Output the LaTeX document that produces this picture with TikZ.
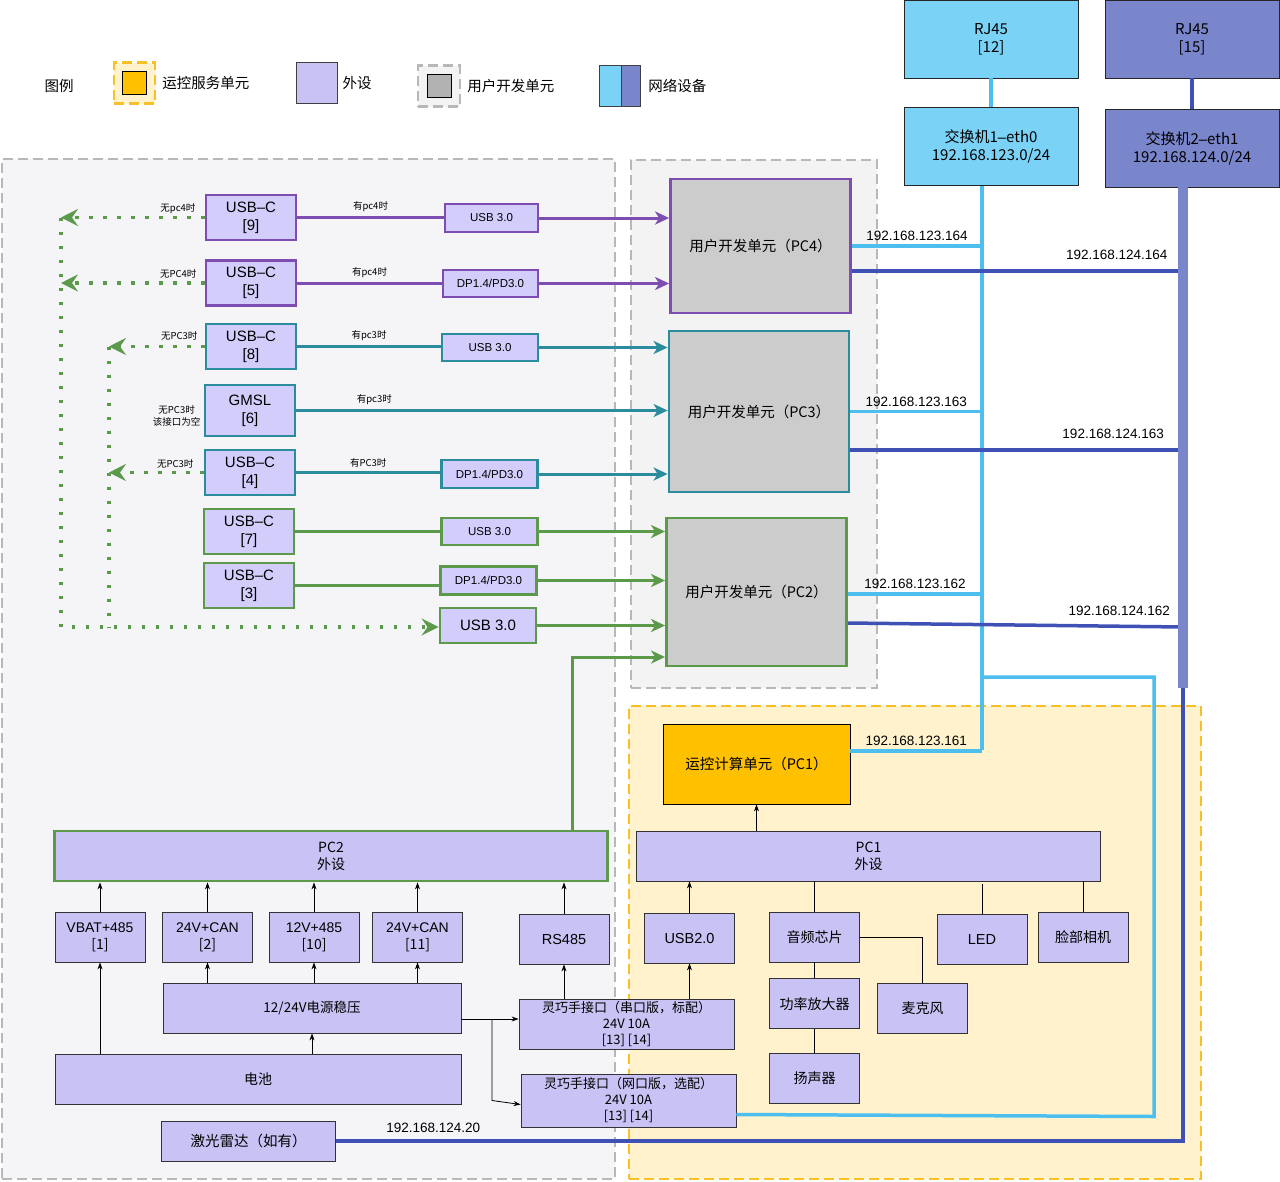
\documentclass[tikz,border=0pt]{standalone}
\usepackage{fontspec}
\setmainfont{Noto Sans CJK SC}
\newfontfamily\lat{Liberation Sans}
\usetikzlibrary{shapes,arrows.meta,positioning}
\definecolor{purp}{HTML}{7D4DB2}
\definecolor{tealc}{HTML}{2B8C9E}
\definecolor{grn}{HTML}{5A9A4A}
\definecolor{lav}{HTML}{D2CDFB}
\definecolor{lavb}{HTML}{C8C3F4}
\definecolor{netl}{HTML}{7AD3F6}
\definecolor{netd}{HTML}{7986CB}
\definecolor{linel}{HTML}{4DBFEF}
\definecolor{lined}{HTML}{3F51B5}
\definecolor{pcgray}{HTML}{CCCCCC}
\definecolor{pcone}{HTML}{FFC000}
\definecolor{zonegray}{HTML}{F5F5F8}
\definecolor{zoneuser}{HTML}{F3F3F3}
\definecolor{zoneyel}{HTML}{FFF2CC}
\definecolor{dashyel}{HTML}{F6C026}
\definecolor{dashgray}{HTML}{B8B8B8}
\tikzstyle{zone}=[rectangle,dash pattern=on 10pt off 5pt,line width=2.5pt,inner sep=0pt]
\tikzstyle{legtext}=[inner sep=0pt,font=\fontsize{14.5}{17}\selectfont]
\tikzstyle{port}=[rectangle,draw,line width=2.8pt,fill=lav,align=center,inner sep=0pt,minimum width=90pt,minimum height=45pt,font=\lat\fontsize{15}{18}\selectfont]
\tikzstyle{conv}=[rectangle,draw,line width=2.8pt,fill=lav,inner sep=0pt,minimum width=96pt,minimum height=27pt,font=\lat\fontsize{11.5}{13}\selectfont]
\tikzstyle{periph}=[rectangle,draw=black!80,line width=0.8pt,fill=lavb,align=center,inner sep=0pt,minimum width=90pt,minimum height=50pt,font=\fontsize{14}{17}\selectfont]
\tikzstyle{devpc}=[rectangle,draw,line width=2.8pt,fill=pcgray,inner sep=0pt,minimum width=180pt,font=\fontsize{14.5}{18}\selectfont]
\tikzstyle{netbox}=[rectangle,draw=black!85,line width=0.8pt,align=center,inner sep=0pt,minimum width=174pt,minimum height=78pt,font=\fontsize{15}{18}\selectfont]
\tikzstyle{wire}=[line width=3pt]
\tikzstyle{cable}=[wire,-{Stealth[length=14pt,width=13pt,inset=4pt]}]
\tikzstyle{spare}=[grn,line width=3.5pt,dash pattern=on 3.5pt off 10.5pt]
\tikzstyle{sparetip}=[-{Stealth[length=17pt,width=17pt,inset=6pt]}]
\tikzstyle{feed}=[line width=0.8pt,-{Stealth[length=7pt,width=5pt]}]
\tikzstyle{tie}=[line width=0.8pt]
\tikzstyle{lanA}=[linel,line width=3.5pt]
\tikzstyle{lanB}=[lined,line width=3.5pt]
\tikzstyle{iptag}=[text=black,font=\lat\fontsize{13.5}{15}\selectfont]
\tikzstyle{hint}=[text=black,inner sep=0pt,align=center,font=\fontsize{9.5}{12}\selectfont]

\begin{document}
\begin{tikzpicture}[x=1pt,y=-1pt]
\useasboundingbox (0,0) rectangle (1280,1181);
\node[zone,draw=dashgray,fill=zonegray,minimum width=613pt,minimum height=1020pt] (zl) at (308.5,669) {};
\node[zone,draw=dashgray,fill=zoneuser,minimum width=246pt,minimum height=528pt] (zu) at (754,424) {};
\node[zone,draw=dashyel,fill=zoneyel,minimum width=572pt,minimum height=473pt] (zy) at (915,942.5) {};

\node[legtext] (lgd) at (59,86) {图例};
\node[zone,draw=dashyel,fill=zoneyel,minimum width=41pt,minimum height=41pt] (lg1) at (134.5,83) {};
\node[draw,line width=0.8pt,fill=pcone,minimum width=24pt,minimum height=23pt,inner sep=0pt] (lg1i) at (lg1) {};
\node[legtext,right=6pt of lg1] (lt1) {运控服务单元};
\node[draw=black!75,line width=0.8pt,fill=lavb,minimum width=41pt,minimum height=41pt,inner sep=0pt] (lg2) at (316.5,83) {};
\node[legtext,right=5pt of lg2] (lt2) {外设};
\node[zone,draw=dashgray,fill=zoneuser,minimum width=42pt,minimum height=41pt] (lg3) at (439,86) {};
\node[draw,line width=0.8pt,fill=black!30,minimum width=24pt,minimum height=23pt,inner sep=0pt] (lg3i) at (lg3) {};
\node[legtext,right=6pt of lg3] (lt3) {用户开发单元};
\node[draw=black!75,line width=0.8pt,fill=netl,minimum width=22pt,minimum height=41pt,inner sep=0pt] (lg4a) at (610,86) {};
\node[draw=black!75,line width=0.8pt,fill=netd,minimum width=19pt,minimum height=41pt,inner sep=0pt,right=0pt of lg4a] (lg4b) {};
\node[legtext,right=7pt of lg4b] (lt4) {网络设备};

\node[netbox,fill=netl] (rj1) at (991,39) {RJ45\\{[12]}};
\node[netbox,fill=netd] (rj2) at (1192,39) {RJ45\\{[15]}};
\node[netbox,fill=netl] (sw1) at (991,146.5) {交换机1{\lat –}eth0\\192.168.123.0/24};
\node[netbox,fill=netd] (sw2) at (1192,148) {交换机2{\lat –}eth1\\192.168.124.0/24};

\node[devpc,draw=purp,minimum height=134pt] (pc4) at (760.5,246) {用户开发单元（PC4）};
\node[devpc,draw=tealc,minimum height=161pt] (pc3) at (759,411.5) {用户开发单元（PC3）};
\node[devpc,draw=grn,minimum height=148pt] (pc2) at (756.5,592) {用户开发单元（PC2）};
\node[devpc,draw=black,line width=0.8pt,fill=pcone,minimum width=187pt,minimum height=80pt] (pc1) at (756.5,764) {运控计算单元（PC1）};

\node[port,draw=purp] (u9) at (251,217.5) {USB–C\\{[9]}};
\node[port,draw=purp] (u5) at (251,283) {USB–C\\{[5]}};
\node[port,draw=tealc] (u8) at (251,346.5) {USB–C\\{[8]}};
\node[port,draw=tealc,minimum height=51pt] (g6) at (250,410.5) {GMSL\\{[6]}};
\node[port,draw=tealc] (u4) at (250,472.5) {USB–C\\{[4]}};
\node[port,draw=grn] (u7) at (249,531.5) {USB–C\\{[7]}};
\node[port,draw=grn] (u3) at (249,585.5) {USB–C\\{[3]}};

\node[conv,draw=purp,minimum width=93pt,minimum height=28pt] (s9) at (491.5,218) {USB 3.0};
\node[conv,draw=purp,minimum width=95pt] (d5) at (490.5,283.5) {DP1.4/PD3.0};
\node[conv,draw=tealc] (s8) at (490,347.5) {USB 3.0};
\node[conv,draw=tealc,minimum height=28pt] (d4) at (489.5,474) {DP1.4/PD3.0};
\node[conv,draw=grn] (s7) at (489.5,531.5) {USB 3.0};
\node[conv,draw=grn,minimum height=28pt] (d3) at (488.5,580.5) {DP1.4/PD3.0};
\node[conv,draw=grn,minimum height=35pt,font=\lat\fontsize{15}{18}\selectfont] (sb) at (488,625.5) {USB 3.0};

\node[hint,above left=4pt and 9pt of u9.west] (n9) {无pc4时};
\node[hint,above left=5pt and 8pt of u5.west] (n5) {无PC4时};
\node[hint,above left=6pt and 7pt of u8.west] (n8) {无PC3时};
\node[hint,left=3pt of g6.west,yshift=-5pt] (n6) {无PC3时\\该接口为空};
\node[hint,above left=4pt and 10pt of u4.west] (n4) {无PC3时};

\draw[wire,purp] (u9.east) -- node[hint,above=4pt]{有pc4时} (u9.east -| s9.west);
\draw[cable,purp] (s9.east) -- (s9.east -| pc4.west);
\draw[wire,purp] (u5.east) -- node[hint,above=4pt]{有pc4时} (u5.east -| d5.west);
\draw[cable,purp] (d5.east) -- (d5.east -| pc4.west);
\draw[wire,tealc] (u8.east) -- node[hint,above=4pt]{有pc3时} (u8.east -| s8.west);
\draw[cable,tealc] (s8.east) -- (s8.east -| pc3.west);
\draw[cable,tealc] (g6.east) -- node[hint,above=4pt,pos=0.21]{有pc3时} (g6.east -| pc3.west);
\draw[wire,tealc] (u4.east) -- node[hint,above=4pt]{有PC3时} (u4.east -| d4.west);
\draw[cable,tealc] (d4.east) -- (d4.east -| pc3.west);
\draw[wire,grn] (u7.east) -- (u7.east -| s7.west);
\draw[cable,grn] (s7.east) -- (s7.east -| pc2.west);
\draw[wire,grn] (u3.east) -- (u3.east -| d3.west);
\draw[cable,grn] (d3.east) -- (d3.east -| pc2.west);
\draw[cable,grn] (sb.east) -- (sb.east -| pc2.west);

\coordinate (lo) at (61,627);
\coordinate (li) at (109,627);
\draw[spare,sparetip] (u9.west) -- (u9.west -| lo);
\draw[spare,sparetip] (u5.west) -- (u5.west -| lo);
\draw[spare,sparetip] (u8.west) -- (u8.west -| li);
\draw[spare,sparetip] (u4.west) -- (u4.west -| li);
\draw[spare] (u8.west -| li) -- (li);
\draw[spare,sparetip] (u9.west -| lo) -- (lo) -- (lo -| sb.west);

\node[periph,draw=grn,line width=2.8pt,minimum width=553pt] (pc2p) at (331,856) {PC2\\外设};
\node[periph] (b1) at (100,937) {{\lat VBAT+485}\\{[1]}};
\node[periph] (b2) at (207.5,937) {{\lat 24V+CAN}\\{[2]}};
\node[periph] (b10) at (314,937) {{\lat 12V+485}\\{[10]}};
\node[periph] (b11) at (417.5,937) {{\lat 24V+CAN}\\{[11]}};
\node[periph,font=\lat\fontsize{14.5}{17}\selectfont] (rs) at (564,939) {RS485};
\node[periph,minimum width=298pt,font=\fontsize{13.5}{17}\selectfont] (reg) at (312,1008) {12/24V电源稳压};
\node[periph,minimum width=406pt] (bat) at (258,1079) {电池};
\node[periph,minimum width=174pt,minimum height=40pt,font=\fontsize{14.5}{17}\selectfont] (ld) at (248.5,1141) {激光雷达（如有）};
\node[periph,minimum width=215pt,font=\fontsize{13}{16}\selectfont] (h1) at (626.5,1024) {灵巧手接口（串口版，标配）\\24V 10A\\{[13] [14]}};
\node[periph,minimum width=215pt,minimum height=53pt,font=\fontsize{13}{16}\selectfont] (h2) at (628.5,1100.5) {灵巧手接口（网口版，选配）\\24V 10A\\{[13] [14]}};

\node[periph,minimum width=464pt] (pc1p) at (868.5,856) {PC1\\外设};
\node[periph,font=\lat\fontsize{14.5}{17}\selectfont] (usb2) at (689.5,938) {USB2.0};
\node[periph] (aud) at (814.5,937) {音频芯片};
\node[periph,font=\lat\fontsize{14.5}{17}\selectfont] (led) at (982,939) {LED};
\node[periph] (face) at (1083,937) {脸部相机};
\node[periph,below=16pt of aud] (amp) {功率放大器};
\node[periph] (mic) at (922.5,1008) {麦克风};
\node[periph,below=24pt of amp] (spk) {扬声器};

\draw[feed] (b1.north) -- (b1.north |- pc2p.south);
\draw[feed] (b2.north) -- (b2.north |- pc2p.south);
\draw[feed] (b10.north) -- (b10.north |- pc2p.south);
\draw[feed] (b11.north) -- (b11.north |- pc2p.south);
\draw[feed] (rs.north) -- (rs.north |- pc2p.south);
\draw[feed] (bat.north -| b1) -- (b1.south);
\draw[feed] (bat.north -| reg) -- (reg.south);
\draw[feed] (reg.north -| b2) -- (b2.south);
\draw[feed] (reg.north -| b10) -- (b10.south);
\draw[feed] (reg.north -| b11) -- (b11.south);
\coordinate (fork) at (492,1019);
\draw[feed] ([yshift=-11pt]reg.east) -- ([yshift=-11pt]reg.east -| h1.west);
\draw[feed] (fork) -- (fork |- h2.west) -- ([yshift=-4pt]h2.west);
\draw[feed] (h1.north -| rs) -- (rs.south);
\draw[feed] (h1.north -| usb2) -- (usb2.south);
\coordinate (up2) at (572,657);
\draw[cable,grn] (pc2p.north -| up2) -- (up2) -- (up2 -| pc2.west);

\draw[feed] (pc1p.north -| pc1) -- (pc1.south);
\draw[feed] (usb2.north) -- (usb2.north |- pc1p.south);
\draw[tie] (aud.north) -- (aud.north |- pc1p.south);
\draw[tie] (led.north) -- ([yshift=-3pt]led.north |- pc1p.south);
\draw[tie] (face.north) -- (face.north |- pc1p.south);
\draw[tie] (aud.south) -- (amp.north);
\draw[tie] (amp.south) -- (spk.north);
\draw[tie] (aud.east) -- (aud.east -| mic) -- (mic.north);

\coordinate (tA) at (982,750);
\coordinate (tB) at (1183,688);
\coordinate (tBl) at (1183,675);
\coordinate (lc) at (1154,677);
\draw[lanA,line width=4pt] (rj1) -- (sw1);
\draw[lanB,line width=4pt] (rj2) -- (sw2);
\draw[lanA] (sw1.south -| tA) -- (tA);
\draw[lanA] (pc4.east) -- node[iptag,above]{192.168.123.164} (pc4.east -| tA);
\draw[lanA] (pc3.east) -- node[iptag,above]{192.168.123.163} (pc3.east -| tA);
\draw[lanA] ([yshift=-2pt]pc2.east) -- node[iptag,above]{192.168.123.162} ([yshift=-2pt]pc2.east -| tA);
\draw[lanA] ([yshift=13pt]pc1.east) -- node[iptag,above]{192.168.123.161} ([yshift=13pt]pc1.east -| tA);
\draw[lanA] ([yshift=-14pt]h2.east) -- ([yshift=-16pt]h2.east -| lc) -- (lc) -- (lc -| tA);
\draw[lanB] ([yshift=-25pt]pc4.east) -- node[iptag,above=6pt,pos=0.8]{192.168.124.164} ([yshift=-25pt]pc4.east -| tB);
\draw[lanB] ([yshift=-38.5pt]pc3.east) -- node[iptag,above=6pt,pos=0.79]{192.168.124.163} ([yshift=-38.5pt]pc3.east -| tB);
\draw[lanB] ([yshift=-31pt]pc2.east) -- node[iptag,above=6pt,pos=0.81]{192.168.124.162} ([yshift=-35pt]pc2.east -| tB);
\draw[lanB] (ld.east) -- node[iptag,above=3pt,pos=0.115]{192.168.124.20} (ld.east -| tBl) -- (tBl);
\draw[netd,line width=10pt] (sw2.south -| tB) -- (tB);
\end{tikzpicture}
\end{document}
